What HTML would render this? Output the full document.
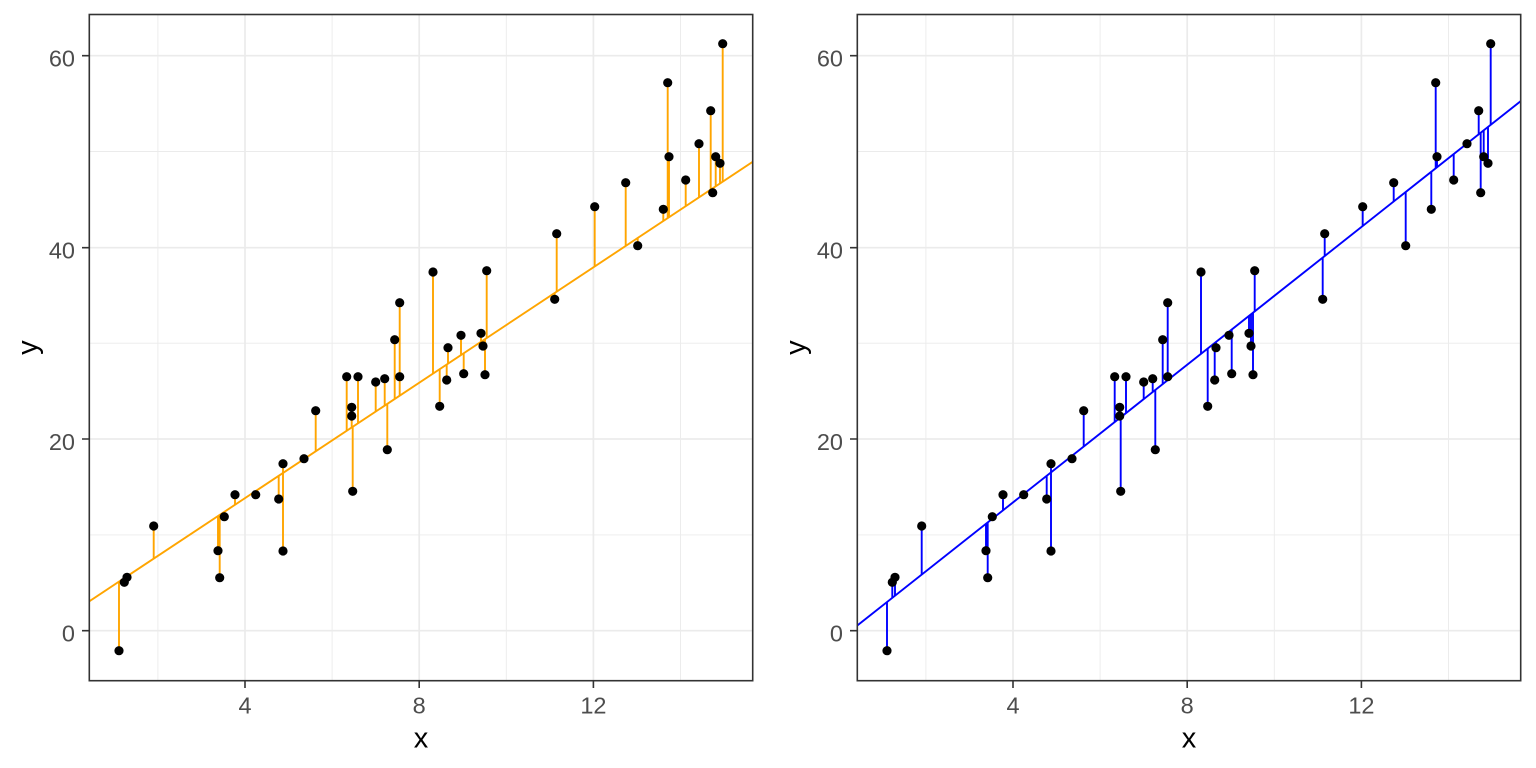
<!DOCTYPE html>
<html>
<head>
<meta charset="utf-8">
<style>
html,body{margin:0;padding:0;background:#fff;}
svg{display:block;}
text{font-family:"Liberation Sans",Arial,sans-serif;}
.tk{font-size:23.5px;fill:#4D4D4D;}
.ti{font-size:29px;fill:#000;}
.gmaj{stroke:#EBEBEB;stroke-width:1.7;fill:none;}
.gmin{stroke:#EBEBEB;stroke-width:0.9;fill:none;}
.tick{stroke:#333;stroke-width:1.6;fill:none;}
.bord{stroke:#333;stroke-width:1.6;fill:none;}
</style>
</head>
<body>
<svg width="1536" height="768" viewBox="0 0 1536 768" xmlns="http://www.w3.org/2000/svg">
<defs>
<clipPath id="pc"><rect x="89.3" y="14.5" width="663.4" height="666.2"/></clipPath>
<g id="pts" fill="#000">
<circle cx="119" cy="650.7" r="4.6"/><circle cx="124.3" cy="582.3" r="4.6"/><circle cx="127" cy="577.3" r="4.6"/><circle cx="153.7" cy="526" r="4.6"/><circle cx="218" cy="550.7" r="4.6"/><circle cx="219.7" cy="577.7" r="4.6"/><circle cx="224.3" cy="516.7" r="4.6"/><circle cx="235" cy="494.7" r="4.6"/><circle cx="255.7" cy="494.7" r="4.6"/><circle cx="278.7" cy="499" r="4.6"/><circle cx="283" cy="463.7" r="4.6"/><circle cx="283" cy="551" r="4.6"/><circle cx="304" cy="458.7" r="4.6"/><circle cx="315.7" cy="410.7" r="4.6"/><circle cx="346.7" cy="376.7" r="4.6"/><circle cx="351.7" cy="407.3" r="4.6"/><circle cx="351.7" cy="416" r="4.6"/><circle cx="352.7" cy="491.3" r="4.6"/><circle cx="358" cy="376.7" r="4.6"/><circle cx="375.7" cy="382" r="4.6"/><circle cx="384.7" cy="378.7" r="4.6"/><circle cx="387.3" cy="449.7" r="4.6"/><circle cx="394.7" cy="339.7" r="4.6"/><circle cx="399.7" cy="302.7" r="4.6"/><circle cx="399.7" cy="376.7" r="4.6"/><circle cx="433" cy="272" r="4.6"/><circle cx="439.7" cy="406.3" r="4.6"/><circle cx="446.7" cy="380" r="4.6"/><circle cx="448" cy="347.7" r="4.6"/><circle cx="461" cy="335.3" r="4.6"/><circle cx="463.7" cy="373.7" r="4.6"/><circle cx="481" cy="333.3" r="4.6"/><circle cx="483" cy="346" r="4.6"/><circle cx="485" cy="374.7" r="4.6"/><circle cx="486.7" cy="270.7" r="4.6"/><circle cx="554.7" cy="299.3" r="4.6"/><circle cx="556.7" cy="233.7" r="4.6"/><circle cx="594.7" cy="206.7" r="4.6"/><circle cx="625.7" cy="182.7" r="4.6"/><circle cx="637.7" cy="245.7" r="4.6"/><circle cx="663.3" cy="209.3" r="4.6"/><circle cx="667.7" cy="82.7" r="4.6"/><circle cx="669" cy="156.7" r="4.6"/><circle cx="685.7" cy="180" r="4.6"/><circle cx="699" cy="143.7" r="4.6"/><circle cx="710.7" cy="110.7" r="4.6"/><circle cx="712.7" cy="192.7" r="4.6"/><circle cx="715.7" cy="156.7" r="4.6"/><circle cx="720" cy="163.3" r="4.6"/><circle cx="722.7" cy="43.7" r="4.6"/>
</g>
<g id="grid">
<path class="gmin" d="M157.9 14.5V680.7M332.1 14.5V680.7M506.3 14.5V680.7M680.5 14.5V680.7M89.3 534.9H752.7M89.3 343.2H752.7M89.3 151.5H752.7"/>
<path class="gmaj" d="M245 14.5V680.7M419.2 14.5V680.7M593.4 14.5V680.7M89.3 630.7H752.7M89.3 439H752.7M89.3 247.7H752.7M89.3 55.7H752.7"/>
</g>
<g id="axes">
<rect class="bord" x="89.3" y="14.5" width="663.4" height="666.2"/>
<path class="tick" d="M82 630.7H89.3M82 439H89.3M82 247.7H89.3M82 55.7H89.3M245 680.7V688M419.2 680.7V688M593.4 680.7V688"/>
</g>
</defs>

<!-- LEFT PANEL -->
<g>
<use href="#grid"/>
<g clip-path="url(#pc)">
<line x1="89.3" y1="601.3" x2="752.7" y2="161.8" stroke="#FFA500" stroke-width="1.9"/>
<path fill="none" stroke="#FFA500" stroke-width="1.9" d="M119 650.7V581.6M124.3 582.3V578.1M127 577.3V576.3M153.7 526V558.6M218 550.7V516M219.7 577.7V514.9M224.3 516.7V511.8M235 494.7V504.7M255.7 494.7V491M278.7 499V475.8M283 463.7V472.9M283 551V472.9M304 458.7V459M315.7 410.7V451.3M346.7 376.7V430.7M351.7 407.3V427.4M351.7 416V427.4M352.7 491.3V426.8M358 376.7V423.3M375.7 382V411.5M384.7 378.7V405.6M387.3 449.7V403.8M394.7 339.7V398.9M399.7 302.7V395.6M399.7 376.7V395.6M433 272V373.6M439.7 406.3V369.1M446.7 380V364.5M448 347.7V363.6M461 335.3V355M463.7 373.7V353.2M481 333.3V341.8M483 346V340.4M485 374.7V339.1M486.7 270.7V338M554.7 299.3V292.9M556.7 233.7V291.6M594.7 206.7V266.4M625.7 182.7V245.9M637.7 245.7V237.9M663.3 209.3V221M667.7 82.7V218.1M669 156.7V217.2M685.7 180V206.1M699 143.7V197.3M710.7 110.7V189.6M712.7 192.7V188.3M715.7 156.7V186.3M720 163.3V183.4M722.7 43.7V181.6"/>
<use href="#pts"/>
</g>
<use href="#axes"/>
<text class="tk" x="75" y="66.5" text-anchor="end">60</text>
<text class="tk" x="75" y="258.5" text-anchor="end">40</text>
<text class="tk" x="75" y="449.8" text-anchor="end">20</text>
<text class="tk" x="75" y="641.5" text-anchor="end">0</text>
<text class="tk" x="245" y="713.5" text-anchor="middle">4</text>
<text class="tk" x="419.2" y="713.5" text-anchor="middle">8</text>
<text class="tk" x="593.4" y="713.5" text-anchor="middle">12</text>
<text class="ti" x="421" y="747.7" text-anchor="middle">x</text>
<text class="ti" transform="translate(36.8,347.6) rotate(-90)" text-anchor="middle">y</text>
</g>

<!-- RIGHT PANEL -->
<g transform="translate(768,0)">
<use href="#grid"/>
<g clip-path="url(#pc)">
<line x1="89.3" y1="625.5" x2="752.7" y2="101.1" stroke="#0000FF" stroke-width="1.9"/>
<path fill="none" stroke="#0000FF" stroke-width="1.9" d="M119 650.7V602M124.3 582.3V597.8M127 577.3V595.7M153.7 526V574.6M218 550.7V523.8M219.7 577.7V522.4M224.3 516.7V518.8M235 494.7V510.3M255.7 494.7V494M278.7 499V475.8M283 463.7V472.4M283 551V472.4M304 458.7V455.8M315.7 410.7V446.5M346.7 376.7V422M351.7 407.3V418.1M351.7 416V418.1M352.7 491.3V417.3M358 376.7V413.1M375.7 382V399.1M384.7 378.7V392M387.3 449.7V389.9M394.7 339.7V384.1M399.7 302.7V380.1M399.7 376.7V380.1M433 272V353.8M439.7 406.3V348.5M446.7 380V343M448 347.7V341.9M461 335.3V331.7M463.7 373.7V329.5M481 333.3V315.9M483 346V314.3M485 374.7V312.7M486.7 270.7V311.4M554.7 299.3V257.6M556.7 233.7V256M594.7 206.7V226M625.7 182.7V201.5M637.7 245.7V192M663.3 209.3V171.8M667.7 82.7V168.3M669 156.7V167.3M685.7 180V154M699 143.7V143.5M710.7 110.7V134.3M712.7 192.7V132.7M715.7 156.7V130.3M720 163.3V126.9M722.7 43.7V124.8"/>
<use href="#pts"/>
</g>
<use href="#axes"/>
<text class="tk" x="75" y="66.5" text-anchor="end">60</text>
<text class="tk" x="75" y="258.5" text-anchor="end">40</text>
<text class="tk" x="75" y="449.8" text-anchor="end">20</text>
<text class="tk" x="75" y="641.5" text-anchor="end">0</text>
<text class="tk" x="245" y="713.5" text-anchor="middle">4</text>
<text class="tk" x="419.2" y="713.5" text-anchor="middle">8</text>
<text class="tk" x="593.4" y="713.5" text-anchor="middle">12</text>
<text class="ti" x="421" y="747.7" text-anchor="middle">x</text>
<text class="ti" transform="translate(36.8,347.6) rotate(-90)" text-anchor="middle">y</text>
</g>
</svg>
</body>
</html>
